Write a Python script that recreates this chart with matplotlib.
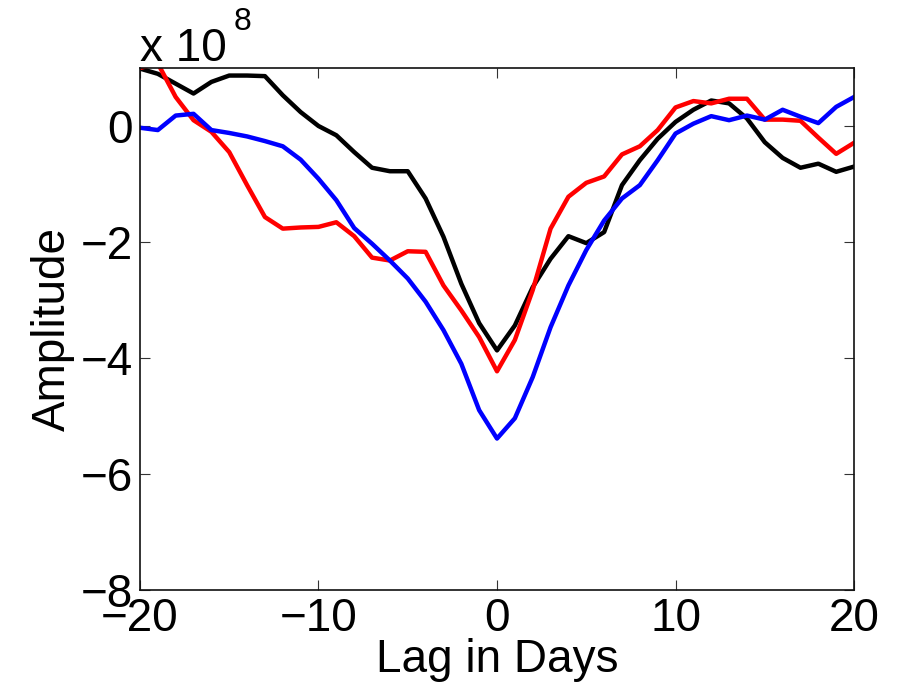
import numpy as np
import matplotlib.pyplot as plt
from matplotlib.ticker import FuncFormatter

plt.rcParams['font.family'] = ['Liberation Sans', 'DejaVu Sans']

lags = np.arange(-20, 21)
# amplitudes in units of 1e8
black = [0.99, 0.90, 0.73, 0.56, 0.76, 0.87, 0.87, 0.86, 0.53, 0.24,
         0.00, -0.16, -0.45, -0.72, -0.78, -0.78, -1.25, -1.91, -2.72, -3.40,
         -3.87, -3.44, -2.78, -2.29, -1.90, -2.02, -1.83, -1.02, -0.59, -0.22,
         0.07, 0.28, 0.44, 0.39, 0.13, -0.28, -0.55, -0.72, -0.65, -0.79, -0.70]
red = [1.00, 1.08, 0.50, 0.10, -0.10, -0.45, -1.02, -1.57, -1.77, -1.75,
       -1.74, -1.66, -1.90, -2.27, -2.32, -2.16, -2.17, -2.75, -3.18, -3.64,
       -4.23, -3.69, -2.83, -1.77, -1.22, -0.98, -0.87, -0.49, -0.35, -0.07,
       0.32, 0.43, 0.39, 0.47, 0.47, 0.11, 0.11, 0.09, -0.20, -0.48, -0.29]
blue = [-0.03, -0.07, 0.18, 0.21, -0.07, -0.12, -0.18, -0.26, -0.35, -0.58,
        -0.91, -1.28, -1.76, -2.03, -2.32, -2.63, -3.03, -3.52, -4.10, -4.90,
        -5.39, -5.04, -4.33, -3.47, -2.75, -2.14, -1.63, -1.25, -1.02, -0.59,
        -0.13, 0.04, 0.17, 0.10, 0.18, 0.11, 0.28, 0.16, 0.05, 0.33, 0.50]

fig = plt.figure(figsize=(8.99, 6.94), dpi=100)
ax = fig.add_axes([0.1557, 0.150, 0.7943, 0.752])

for vals, c in zip([black, red, blue], ['black', 'red', 'blue']):
    ax.plot(lags, np.array(vals) * 1e8, color=c, linewidth=3.2)

ax.set_xlim(-20, 20)
ax.set_ylim(-8e8, 1e8)
ax.set_xticks([-20, -10, 0, 10, 20])
ax.set_yticks([-8e8, -6e8, -4e8, -2e8, 0])
ax.yaxis.set_major_formatter(FuncFormatter(lambda v, p: f"{v/1e8:g}".replace('-', '\u2212')))
ax.xaxis.set_major_formatter(FuncFormatter(lambda v, p: f"{v:g}".replace('-', '\u2212')))
ax.tick_params(direction='in', length=7, width=0.8, top=True, right=True,
               labelsize=33, pad=5, color='#333333')
for s in ax.spines.values():
    s.set_linewidth(1.2)
    s.set_color('#111111')

ax.set_xlabel('Lag in Days', fontsize=33, labelpad=-2)
ax.set_ylabel('Amplitude', fontsize=33, labelpad=4)
ax.text(0.0, 1.014, 'x 10', transform=ax.transAxes, fontsize=33,
        ha='left', va='baseline')
ax.text(0.131, 1.072, '8', transform=ax.transAxes, fontsize=23,
        ha='left', va='baseline')

fig.savefig('out.png', dpi=100)
